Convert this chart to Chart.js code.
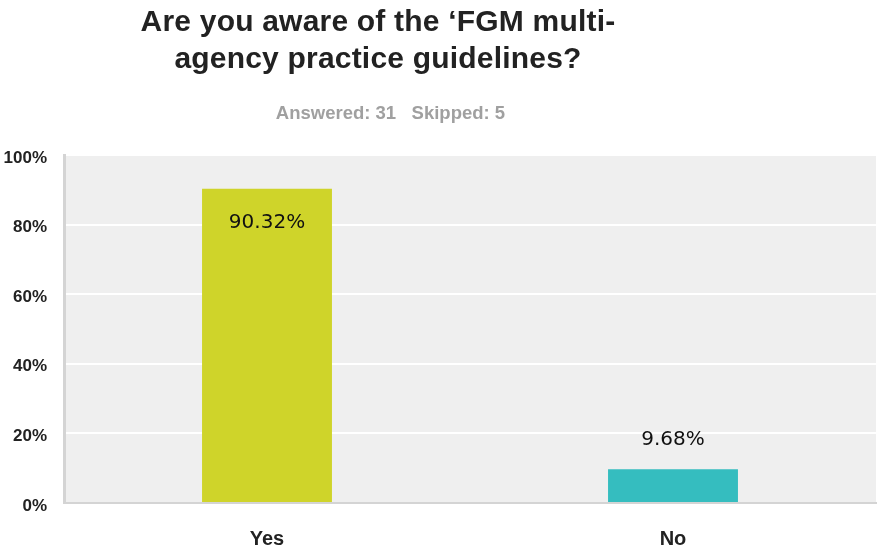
<!DOCTYPE html>
<html>
<head>
<meta charset="utf-8">
<script src="https://cdn.jsdelivr.net/npm/chart.js@4/dist/chart.umd.min.js"></script>
<style>
  html, body { margin: 0; padding: 0; background: #fff; }
  #wrap { position: relative; width: 877px; height: 553px; }
  #title {
    position: absolute; left: 0; top: 2px; width: 756px; text-align: center;
    font: bold 30px "Liberation Sans", Arial, sans-serif; color: #222; line-height: 37px;
    letter-spacing: 0.2px;
  }
  #sub {
    position: absolute; left: 0; top: 102px; width: 781px; text-align: center;
    font: bold 18.5px "Liberation Sans", Arial, sans-serif; color: #a0a0a0;
  }
  canvas { position: absolute; left: 0; top: 0; }
</style>
</head>
<body>
<div id="wrap">
  <canvas id="myChart" width="877" height="553"></canvas>
  <div id="title">Are you aware of the ‘FGM multi-<br>agency practice guidelines?</div>
  <div id="sub">Answered: 31&nbsp;&nbsp;&nbsp;Skipped: 5</div>
</div>
<script>
var labels = ["Yes", "No"];
var percents = [90.32, 9.68];
var barColors = ["#cfd42a", "#35bdbf"];
var yTicks = [0, 20, 40, 60, 80, 100];

var plotBg = {
  id: "plotBg",
  beforeDraw: function(chart) {
    var a = chart.chartArea, c = chart.ctx;
    c.save();
    c.fillStyle = "#efefef";
    c.fillRect(a.left, a.top, a.right - a.left, a.bottom - a.top);
    c.restore();
  }
};

var valueLabels = {
  id: "valueLabels",
  afterDatasetsDraw: function(chart) {
    var c = chart.ctx;
    var meta = chart.getDatasetMeta(0);
    c.save();
    c.font = "20px 'DejaVu Sans', Verdana, sans-serif";
    c.fillStyle = "#111";
    c.textAlign = "center";
    c.textBaseline = "middle";
    meta.data.forEach(function(bar, i) {
      var h = bar.base - bar.y;
      var y = h > 60 ? bar.y + 34 : bar.y - 30;
      c.fillText(percents[i].toFixed(2) + "%", bar.x, y);
    });
    c.restore();
  }
};

var ctx = document.getElementById("myChart");
new Chart(ctx, {
  type: "bar",
  data: {
    labels: labels,
    datasets: [{
      data: percents,
      backgroundColor: barColors,
      borderWidth: 0,
      barPercentage: 0.32,
      categoryPercentage: 1
    }]
  },
  options: {
    responsive: false,
    animation: false,
    layout: { padding: { top: 155, right: 1, left: 0, bottom: 0 } },
    plugins: { legend: { display: false }, tooltip: { enabled: false } },
    scales: {
      x: {
        grid: { display: false, drawTicks: false },
        border: { display: true, color: "#d4d4d4", width: 2 },
        ticks: {
          padding: 24,
          color: "#222",
          font: { family: "'Liberation Sans', Arial, sans-serif", size: 20, weight: "bold" }
        },
        afterFit: function(s) { s.height = 50; }
      },
      y: {
        min: 0,
        max: 100,
        afterBuildTicks: function(s) { s.ticks = yTicks.map(function(v) { return { value: v }; }); },
        grid: { color: "#ffffff", lineWidth: 2, drawTicks: false },
        border: { display: true, color: "#d4d4d4", width: 3 },
        ticks: {
          padding: 17,
          labelOffset: 3,
          color: "#222",
          font: { family: "'Liberation Sans', Arial, sans-serif", size: 17, weight: "bold" },
          callback: function(v) { return v + "%"; }
        },
        afterFit: function(s) { s.width = 64; }
      }
    }
  },
  plugins: [plotBg, valueLabels]
});
</script>
</body>
</html>
